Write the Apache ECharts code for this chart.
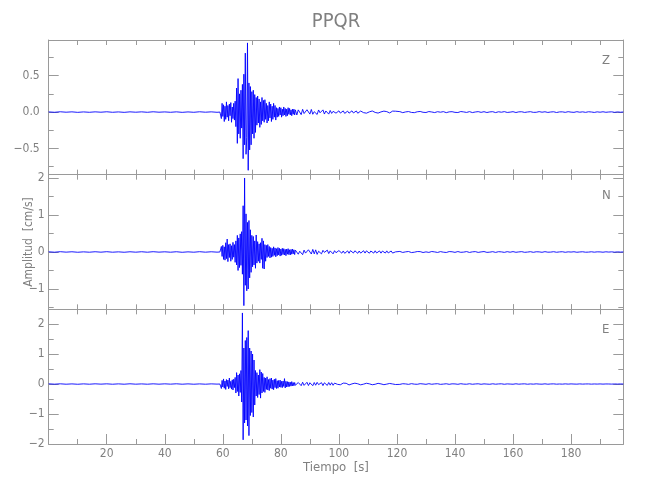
<!DOCTYPE html>
<html><head><meta charset="utf-8">
<script src="https://cdn.jsdelivr.net/npm/echarts@6/dist/echarts.min.js"></script>
<style>html,body{margin:0;padding:0;background:#fff}#c{width:650px;height:500px}</style>
</head><body><div id="c"></div>
<script>
// ---------- data ----------
const chartTitle = 'PPQR';
const components = ['Z', 'N', 'E'];
const xLabel = 'Tiempo  [s]';
const yLabel = 'Amplitud  [cm/s]';
const timeMin = 0, timeMax = 198;
const xMajor = 20, xMinor = 10;
// sampling of the trace segments: [start time (s), sample step (s)]
const segQuiet = [0, 2];
const segStrong = [59, 0.25];
const segCoda = [85.5, 0.5];
const segTail = [121, 1];
// amplitude ranges (cm/s) and tick steps per component
const yRanges = [[-0.86, 0.99], [-1.55, 2.09], [-2.0, 2.49]];
const yMajor = [0.5, 1, 1];
const yMinor = [0.25, 0.5, 0.5];

// Z component
const zQuiet = [0.002,-0.003,0.004,-0.002,0.003,-0.004,0.002,-0.003,0.003,-0.002,0.004,-0.003,0.002,-0.004,0.003,-0.002,0.003,-0.003,0.004,-0.002,0.002,-0.003,0.003,-0.004,0.002,-0.003,0.004,-0.002,0.003,-0.003];
const zStrong = [0.00,0.02,-0.09,0.12,-0.06,0.10,-0.13,0.08,-0.10,0.14,-0.07,0.09,-0.12,0.11,-0.05,0.13,-0.14,0.07,-0.09,0.12,-0.11,0.15,-0.20,0.33,-0.43,0.46,-0.30,0.25,-0.36,0.30,-0.22,0.38,-0.64,0.52,-0.45,0.81,-0.58,-0.35,0.95,-0.80,0.40,-0.52,0.35,-0.45,0.28,-0.30,0.30,-0.36,0.24,-0.28,0.20,-0.18,0.22,-0.15,0.18,-0.21,0.14,-0.17,0.20,-0.12,0.16,-0.14,0.17,-0.10,0.12,-0.15,0.09,-0.12,0.14,-0.08,0.11,-0.13,0.08,-0.10,0.12,-0.07,0.09,-0.11,0.06,-0.07,0.05,-0.06,0.07,-0.04,0.06,-0.07,0.04,-0.05,0.07,-0.04,0.05,-0.06,0.04,-0.05,0.06,-0.03,0.05,-0.04,0.03,-0.05,0.04,-0.03,0.04,-0.04,0.03];
const zCoda = [-0.04,0.03,0.01,-0.035,0.038,-0.02,-0.03,0.032,0.012,-0.028,0.036,-0.03,0.005,0.027,-0.033,0.029,-0.01,-0.025,0.03,-0.027,0.015,0.024,-0.028,0.022,-0.018,0.01,0.018,-0.015,-0.006,0.017,-0.014,0.008,0.016,-0.018,0.004,0.013,-0.015,-0.01,0.017,-0.012,0.006,0.015,-0.016,0.002,0.014,-0.013,-0.008,0.016,-0.015,0.012,0.003,-0.014,0.015,-0.011,-0.005,0.013,-0.014,0.012,0.002,-0.015,0.013,-0.011,0.006,0.014,-0.012,-0.004,0.013,-0.01,0.012,0.002];
const zTail = [0.006,-0.008,0.002,0.007,-0.005,-0.008,0.004,0.008,-0.003,-0.006,0.007,0.001,-0.007,0.005,-0.002,0.006,-0.008,0.003,0.005,-0.004,-0.006,0.007,0.002,-0.005,0.006,-0.007,0.001,0.006,-0.004,0.005,-0.006,0.002,0.005,-0.007,0.004,-0.002,0.006,-0.005,-0.001,0.005,-0.006,0.003,0.004,-0.005,0.001,0.005,-0.004,-0.003,0.006,-0.002,0.004,-0.005,0.001,0.004,-0.006,0.002,0.003,-0.004,0.005,-0.001,-0.004,0.005,-0.002,0.003,-0.004,0.004,0.001,-0.005,0.003,-0.002,0.004,-0.003,0.001,0.003,-0.004,0.002,-0.002,0.001];

// N component
const nQuiet = [0.005,-0.006,0.008,-0.004,0.006,-0.007,0.004,-0.006,0.007,-0.005,0.008,-0.006,0.004,-0.007,0.006,-0.005,0.007,-0.006,0.008,-0.004,0.005,-0.006,0.007,-0.008,0.004,-0.006,0.008,-0.005,0.006,-0.004];
const nStrong = [0.00,-0.05,0.15,-0.12,0.18,-0.20,0.14,-0.22,0.25,-0.18,0.35,-0.26,0.20,-0.15,0.22,-0.25,0.17,-0.20,0.26,-0.14,0.20,-0.28,0.30,-0.35,0.45,-0.50,0.38,-0.42,0.49,-0.36,0.55,-0.60,1.25,-1.45,2.00,-0.90,1.03,-1.05,0.80,-1.00,0.85,-0.70,0.60,-0.55,0.45,-0.40,0.42,-0.35,0.30,-0.44,0.46,-0.30,0.28,-0.25,0.22,-0.30,0.25,-0.20,0.37,-0.44,0.30,-0.46,0.20,-0.25,0.18,-0.15,0.20,-0.12,0.15,-0.16,0.12,-0.14,0.10,-0.12,0.14,-0.09,0.11,-0.13,0.09,-0.10,0.12,-0.08,0.10,-0.11,0.08,-0.09,0.10,-0.07,0.09,-0.08,0.07,-0.10,0.08,-0.06,0.09,-0.07,0.06,-0.08,0.07,-0.06,0.08,-0.05,0.06,-0.07,0.05];
const nCoda = [0.07,-0.06,0.02,0.065,-0.072,0.05,-0.03,-0.068,0.06,0.01,-0.055,0.07,-0.05,0.058,-0.064,0.02,0.048,-0.05,0.045,-0.01,-0.047,0.05,-0.042,0.03,0.046,-0.05,0.035,-0.02,-0.03,0.038,0.01,-0.032,0.028,-0.036,0.005,0.03,-0.034,0.036,-0.015,-0.028,0.032,0.008,-0.035,0.027,-0.03,0.012,0.034,-0.029,0.031,-0.01,-0.033,0.026,0.004,-0.03,0.032,-0.027,-0.008,0.029,-0.031,0.025,0.006,-0.028,0.03,-0.026,-0.004,0.027,-0.029,0.024,0.003,-0.022];
const nTail = [0.015,-0.012,0.004,0.013,-0.015,-0.006,0.012,0.01,-0.014,0.003,-0.011,0.013,0.002,-0.012,0.01,-0.005,-0.013,0.011,0.006,-0.01,0.012,-0.009,-0.003,0.011,-0.012,0.004,0.01,-0.011,0.002,0.012,-0.01,-0.004,0.009,-0.011,0.008,0.003,-0.01,0.009,-0.006,0.01,-0.008,0.002,0.009,-0.009,-0.002,0.008,-0.009,0.006,0.003,-0.008,0.009,-0.005,-0.003,0.008,-0.007,0.002,0.007,-0.008,0.004,-0.002,0.007,-0.007,0.001,0.006,-0.006,-0.003,0.006,-0.005,0.004,0.002,-0.006,0.005,-0.002,0.004,-0.005,0.003,-0.002,0.001];

// E component
const eQuiet = [0.006,-0.005,0.007,-0.006,0.004,-0.008,0.005,-0.006,0.007,-0.004,0.006,-0.007,0.005,-0.006,0.008,-0.005,0.004,-0.006,0.007,-0.005,0.006,-0.004,0.008,-0.006,0.005,-0.007,0.004,-0.006,0.005,-0.003];
const eStrong = [0.00,0.06,-0.15,0.12,-0.10,0.17,-0.14,0.10,-0.18,0.15,-0.08,0.13,-0.16,0.20,-0.12,0.09,-0.17,0.14,-0.20,0.16,-0.12,0.22,-0.30,0.38,-0.25,0.30,-0.40,0.34,-0.28,0.45,-0.60,2.37,-1.86,1.20,-1.30,1.45,-1.20,1.55,-1.40,1.78,-1.72,1.20,-1.05,1.10,-0.95,1.00,-1.10,0.80,-0.70,0.45,-0.40,0.38,-0.45,0.30,-0.35,0.48,-0.47,0.40,-0.30,0.35,-0.25,0.22,-0.28,0.20,-0.18,0.24,-0.20,0.15,-0.22,0.18,-0.14,0.20,-0.17,0.13,-0.19,0.16,-0.12,0.18,-0.15,0.11,-0.14,0.12,-0.10,0.13,-0.11,0.09,-0.12,0.10,-0.08,0.18,-0.13,0.09,-0.10,0.08,-0.09,0.07,-0.08,0.06,-0.07,0.08,-0.06,0.05,-0.06,0.05,-0.04];
const eCoda = [-0.06,0.05,0.01,-0.055,0.06,-0.045,-0.02,0.058,-0.05,0.042,0.01,-0.056,0.05,-0.04,0.055,-0.02,-0.048,0.045,-0.052,0.04,0.005,-0.046,0.05,-0.038,0.044,-0.042,0.03,-0.028,-0.01,0.032,-0.025,0.005,0.03,-0.027,0.024,-0.012,-0.03,0.026,0.004,-0.022,0.028,-0.025,0.008,0.021,-0.027,0.024,-0.004,-0.02,0.025,-0.023,0.006,0.019,-0.024,0.022,-0.008,-0.02,0.023,-0.018,0.004,0.021,-0.022,0.017,-0.003,-0.02,0.019,-0.016,0.002,0.018,-0.016,0.012];
const eTail = [-0.012,0.01,0.003,-0.011,0.012,-0.004,-0.009,0.011,0.002,-0.01,0.011,-0.008,0.004,0.01,-0.011,-0.002,0.009,-0.01,0.006,0.003,-0.009,0.01,-0.003,-0.007,0.009,-0.008,0.002,0.008,-0.009,0.005,-0.002,-0.008,0.008,-0.006,0.003,0.007,-0.008,0.004,-0.001,-0.007,0.008,-0.005,0.002,0.006,-0.007,0.003,-0.004,0.006,-0.002,-0.005,0.006,-0.006,0.002,0.005,-0.005,0.001,-0.004,0.005,-0.003,0.004,-0.001,-0.004,0.004,-0.003,0.002,0.003,-0.004,0.002,-0.002,0.003,-0.003,0.002,0.001,-0.003,0.002,-0.002,0.002,-0.001];

// ---------- build ----------
function seg(s, vals) { return vals.map((v, i) => [s[0] + i * s[1], v]); }
function trace(q, s, c, t) { return [].concat(seg(segQuiet, q), seg(segStrong, s), seg(segCoda, c), seg(segTail, t)); }
const traces = [
  trace(zQuiet, zStrong, zCoda, zTail),
  trace(nQuiet, nStrong, nCoda, nTail),
  trace(eQuiet, eStrong, eCoda, eTail)
];

const font = "'Liberation Sans Narrow','DejaVu Sans Condensed','Liberation Sans',sans-serif";
const axisGray = '#9a9a9a', textGray = '#808080';
const plotLeft = 48.7, plotRight = 26.7, plotTop = 40, panelH = 134.67;

const grids = [], xAxes = [], yAxes = [], titles = [];
titles.push({ text: chartTitle, left: 336, top: 12, textAlign: 'center', padding: 0,
  textStyle: { fontSize: 20, fontWeight: 'normal', color: textGray, fontFamily: font } });

const fmtMinus = s => s.replace('-', '\u2212');
const tick = len => ({ show: true, inside: true, length: len, lineStyle: { color: axisGray, width: 1 } });
const line = show => ({ show: show, onZero: false, lineStyle: { color: axisGray, width: 1 } });

for (let g = 0; g < 3; g++) {
  grids.push({ left: plotLeft, right: plotRight, top: plotTop + g * panelH, height: panelH, outerBoundsMode: 'none', containLabel: false });
  const last = g === 2;
  const xBase = { gridIndex: g, type: 'value', min: timeMin, max: timeMax, splitLine: { show: false } };
  // bottom major
  xAxes.push(Object.assign({}, xBase, {
    position: 'bottom', interval: xMajor, axisLine: line(true), axisTick: tick(last ? 10 : 5),
    axisLabel: { show: last, color: textGray, fontSize: 12, fontFamily: font, margin: 4,
      formatter: v => (v > timeMin && v < timeMax && v % xMajor === 0) ? String(v) : '' },
    name: last ? xLabel : '', nameLocation: 'middle', nameGap: 17,
    nameTextStyle: { color: textGray, fontSize: 13, fontFamily: font }
  }));
  // bottom minor
  xAxes.push(Object.assign({}, xBase, {
    position: 'bottom', interval: xMinor, axisLine: line(false), axisTick: tick(5), axisLabel: { show: false }
  }));
  // top major
  xAxes.push(Object.assign({}, xBase, {
    position: 'top', interval: xMajor, axisLine: line(true), axisTick: tick(5), axisLabel: { show: false }
  }));
  // top minor
  xAxes.push(Object.assign({}, xBase, {
    position: 'top', interval: xMinor, axisLine: line(false), axisTick: tick(5), axisLabel: { show: false }
  }));

  const yBase = { gridIndex: g, type: 'value', min: yRanges[g][0], max: yRanges[g][1], splitLine: { show: false }, scale: true };
  const maj = yMajor[g], mnr = yMinor[g];
  // left major
  yAxes.push(Object.assign({}, yBase, {
    position: 'left', minInterval: maj, maxInterval: maj, axisLine: line(true), axisTick: tick(10),
    axisLabel: { show: true, color: textGray, fontSize: 12, fontFamily: font, margin: g === 0 ? 9 : 4,
      formatter: v => {
        const k = v / maj;
        if (Math.abs(k - Math.round(k)) > 1e-6) return '';
        return fmtMinus(g === 0 ? v.toFixed(1) : String(Math.round(v)));
      } },
    name: g === 1 ? yLabel : '', nameLocation: 'middle', nameGap: 14, nameMoveOverlap: false,
    nameTextStyle: { color: textGray, fontSize: 12, fontFamily: font }
  }));
  // left minor
  yAxes.push(Object.assign({}, yBase, {
    position: 'left', minInterval: mnr, maxInterval: mnr, axisLine: line(false), axisTick: tick(5), axisLabel: { show: false }
  }));
  // right major
  yAxes.push(Object.assign({}, yBase, {
    position: 'right', minInterval: maj, maxInterval: maj, axisLine: line(true), axisTick: tick(10), axisLabel: { show: false }
  }));
  // right minor
  yAxes.push(Object.assign({}, yBase, {
    position: 'right', minInterval: mnr, maxInterval: mnr, axisLine: line(false), axisTick: tick(5), axisLabel: { show: false }
  }));

  titles.push({ text: components[g], left: 602, top: plotTop + g * panelH + 14, padding: 0,
    textStyle: { fontSize: 13, fontWeight: 'normal', color: textGray, fontFamily: font } });
}

const series = traces.map((d, g) => ({
  type: 'line', name: components[g], xAxisIndex: g * 4, yAxisIndex: g * 4,
  data: d, showSymbol: false, symbol: 'none', silent: true, clip: true,
  lineStyle: { color: '#0000ff', width: 0.9 }
}));

const chart = echarts.init(document.getElementById('c'), null, { renderer: 'canvas' });
chart.setOption({
  animation: false,
  backgroundColor: '#ffffff',
  title: titles,
  grid: grids,
  xAxis: xAxes,
  yAxis: yAxes,
  series: series
});
</script>
</body></html>
